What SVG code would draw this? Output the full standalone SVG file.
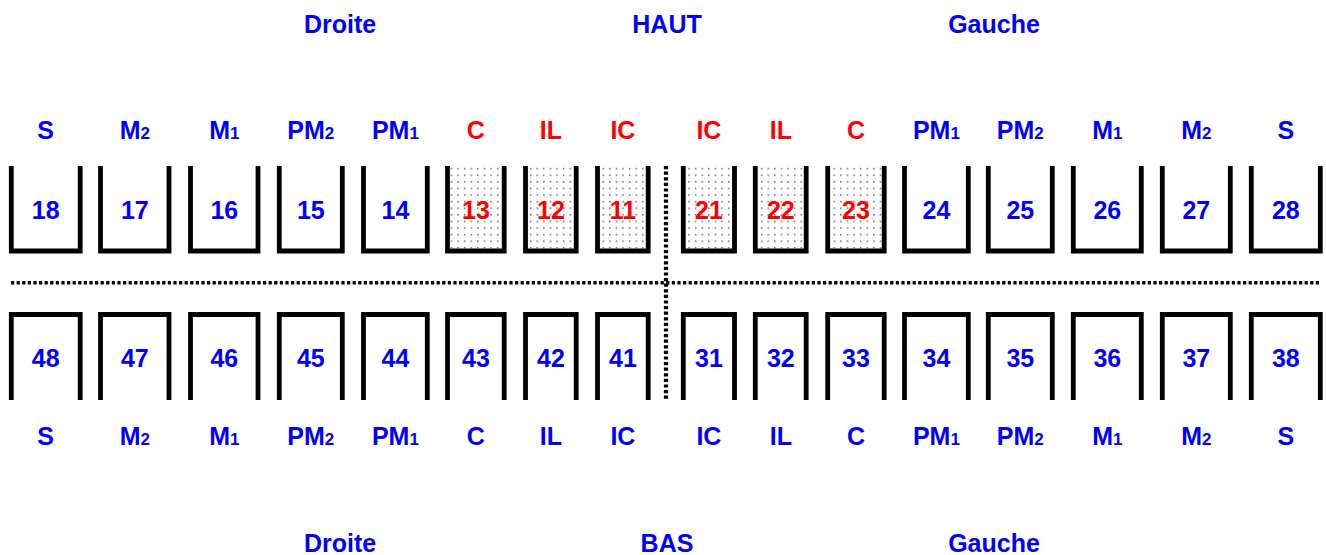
<svg xmlns="http://www.w3.org/2000/svg" width="1326" height="555" viewBox="0 0 1326 555">
<style>
text{font-family:"Liberation Sans",Arial,Helvetica,sans-serif;font-weight:bold;font-size:25px;text-anchor:middle}
.b{fill:#0000ff}
.r{fill:#ff0000}
.s{font-size:17px}
.box{fill:none;stroke:#000;stroke-width:4.8;stroke-linejoin:miter;stroke-linecap:butt}
.dot{fill:url(#dots)}
.sep{fill:none;stroke:#000;stroke-dasharray:3.2 2.4}
</style>
<defs>
<pattern id="dots" x="0" y="0" width="6.6" height="6.6" patternUnits="userSpaceOnUse">
<rect x="2" y="3" width="1.3" height="1.3" fill="#333"/>
</pattern>
</defs>
<rect width="1326" height="555" fill="#fff"/>
<g id="headers">
<text class="b" x="340" y="33">Droite</text>
<text class="b" x="667" y="33">HAUT</text>
<text class="b" x="994" y="33">Gauche</text>
<text class="b" x="340" y="552">Droite</text>
<text class="b" x="667" y="552">BAS</text>
<text class="b" x="994" y="552">Gauche</text>
</g>
<g id="separators">
<line class="sep" x1="11" y1="282.8" x2="1321" y2="282.8" stroke-width="3.5"/>
<line class="sep" x1="666" y1="166" x2="666" y2="399" stroke-width="4.2"/>
</g>
<!-- upper row -->
<g id="t18"><path class="box" d="M11.3 166V251H80.2V166"/><text class="b" x="45.7" y="139">S</text><text class="b" x="45.7" y="219">18</text></g>
<g id="t17"><path class="box" d="M100.5 166V251H169V166"/><text class="b" x="134.8" y="139">M<tspan class="s">2</tspan></text><text class="b" x="134.8" y="219">17</text></g>
<g id="t16"><path class="box" d="M190.5 166V251H258V166"/><text class="b" x="224.3" y="139">M<tspan class="s">1</tspan></text><text class="b" x="224.3" y="219">16</text></g>
<g id="t15"><path class="box" d="M279.3 166V251H342.3V166"/><text class="b" x="310.8" y="139">PM<tspan class="s">2</tspan></text><text class="b" x="310.8" y="219">15</text></g>
<g id="t14"><path class="box" d="M363.5 166V251H427.3V166"/><text class="b" x="395.4" y="139">PM<tspan class="s">1</tspan></text><text class="b" x="395.4" y="219">14</text></g>
<g id="t13"><rect class="dot" x="449.9" y="166" width="51.9" height="82.6"/><path class="box" d="M447.5 166V251H504.2V166"/><text class="r" x="475.9" y="139">C</text><text class="r" x="475.9" y="219">13</text></g>
<g id="t12"><rect class="dot" x="527.9" y="166" width="45.9" height="82.6"/><path class="box" d="M525.5 166V251H576.2V166"/><text class="r" x="550.9" y="139">IL</text><text class="r" x="550.9" y="219">12</text></g>
<g id="t11"><rect class="dot" x="599.9" y="166" width="45.9" height="82.6"/><path class="box" d="M597.5 166V251H648.2V166"/><text class="r" x="622.9" y="139">IC</text><text class="r" x="622.9" y="219">11</text></g>
<g id="t21"><rect class="dot" x="685.7" y="166" width="46.4" height="82.6"/><path class="box" d="M683.3 166V251H734.5V166"/><text class="r" x="708.9" y="139">IC</text><text class="r" x="708.9" y="219">21</text></g>
<g id="t22"><rect class="dot" x="757.7" y="166" width="46.1" height="82.6"/><path class="box" d="M755.3 166V251H806.2V166"/><text class="r" x="780.8" y="139">IL</text><text class="r" x="780.8" y="219">22</text></g>
<g id="t23"><rect class="dot" x="830.1" y="166" width="51.7" height="82.6"/><path class="box" d="M827.7 166V251H884.2V166"/><text class="r" x="856" y="139">C</text><text class="r" x="856" y="219">23</text></g>
<g id="t24"><path class="box" d="M904.5 166V251H968.3V166"/><text class="b" x="936.4" y="139">PM<tspan class="s">1</tspan></text><text class="b" x="936.4" y="219">24</text></g>
<g id="t25"><path class="box" d="M988.3 166V251H1052.3V166"/><text class="b" x="1020.3" y="139">PM<tspan class="s">2</tspan></text><text class="b" x="1020.3" y="219">25</text></g>
<g id="t26"><path class="box" d="M1073.3 166V251H1141.3V166"/><text class="b" x="1107.3" y="139">M<tspan class="s">1</tspan></text><text class="b" x="1107.3" y="219">26</text></g>
<g id="t27"><path class="box" d="M1162.3 166V251H1230.3V166"/><text class="b" x="1196.3" y="139">M<tspan class="s">2</tspan></text><text class="b" x="1196.3" y="219">27</text></g>
<g id="t28"><path class="box" d="M1251.3 166V251H1320.3V166"/><text class="b" x="1285.8" y="139">S</text><text class="b" x="1285.8" y="219">28</text></g>
<!-- lower row -->
<g id="t48"><path class="box" d="M11.3 400V314.5H80.2V400"/><text class="b" x="45.7" y="367">48</text><text class="b" x="45.7" y="445">S</text></g>
<g id="t47"><path class="box" d="M100.5 400V314.5H169V400"/><text class="b" x="134.8" y="367">47</text><text class="b" x="134.8" y="445">M<tspan class="s">2</tspan></text></g>
<g id="t46"><path class="box" d="M190.5 400V314.5H258V400"/><text class="b" x="224.3" y="367">46</text><text class="b" x="224.3" y="445">M<tspan class="s">1</tspan></text></g>
<g id="t45"><path class="box" d="M279.3 400V314.5H342.3V400"/><text class="b" x="310.8" y="367">45</text><text class="b" x="310.8" y="445">PM<tspan class="s">2</tspan></text></g>
<g id="t44"><path class="box" d="M363.5 400V314.5H427.3V400"/><text class="b" x="395.4" y="367">44</text><text class="b" x="395.4" y="445">PM<tspan class="s">1</tspan></text></g>
<g id="t43"><path class="box" d="M447.5 400V314.5H504.2V400"/><text class="b" x="475.9" y="367">43</text><text class="b" x="475.9" y="445">C</text></g>
<g id="t42"><path class="box" d="M525.5 400V314.5H576.2V400"/><text class="b" x="550.9" y="367">42</text><text class="b" x="550.9" y="445">IL</text></g>
<g id="t41"><path class="box" d="M597.5 400V314.5H648.2V400"/><text class="b" x="622.9" y="367">41</text><text class="b" x="622.9" y="445">IC</text></g>
<g id="t31"><path class="box" d="M683.3 400V314.5H734.5V400"/><text class="b" x="708.9" y="367">31</text><text class="b" x="708.9" y="445">IC</text></g>
<g id="t32"><path class="box" d="M755.3 400V314.5H806.2V400"/><text class="b" x="780.8" y="367">32</text><text class="b" x="780.8" y="445">IL</text></g>
<g id="t33"><path class="box" d="M827.7 400V314.5H884.2V400"/><text class="b" x="856" y="367">33</text><text class="b" x="856" y="445">C</text></g>
<g id="t34"><path class="box" d="M904.5 400V314.5H968.3V400"/><text class="b" x="936.4" y="367">34</text><text class="b" x="936.4" y="445">PM<tspan class="s">1</tspan></text></g>
<g id="t35"><path class="box" d="M988.3 400V314.5H1052.3V400"/><text class="b" x="1020.3" y="367">35</text><text class="b" x="1020.3" y="445">PM<tspan class="s">2</tspan></text></g>
<g id="t36"><path class="box" d="M1073.3 400V314.5H1141.3V400"/><text class="b" x="1107.3" y="367">36</text><text class="b" x="1107.3" y="445">M<tspan class="s">1</tspan></text></g>
<g id="t37"><path class="box" d="M1162.3 400V314.5H1230.3V400"/><text class="b" x="1196.3" y="367">37</text><text class="b" x="1196.3" y="445">M<tspan class="s">2</tspan></text></g>
<g id="t38"><path class="box" d="M1251.3 400V314.5H1320.3V400"/><text class="b" x="1285.8" y="367">38</text><text class="b" x="1285.8" y="445">S</text></g>
</svg>
